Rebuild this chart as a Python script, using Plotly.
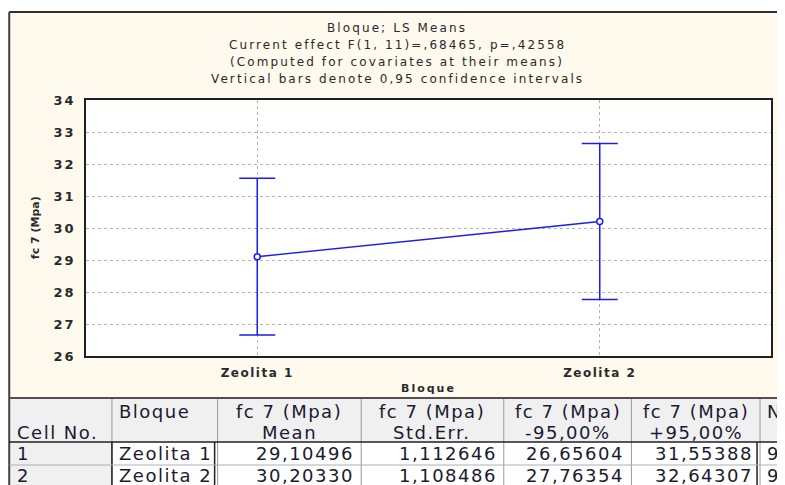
import plotly.graph_objects as go

# LS means of fc 7 (Mpa) by Bloque
bloque = ["Zeolita 1", "Zeolita 2"]
cell_no = ["1", "2"]
mean = [29.10496, 30.20330]
std_err = [1.112646, 1.108486]
lo95 = [26.65604, 27.76354]
hi95 = [31.55388, 32.64307]
n_obs = [9, 9]

y_ticks = list(range(26, 35))

title_lines = [
    "Bloque; LS Means",
    "Current effect F(1, 11)=,68465, p=,42558",
    "(Computed for covariates at their means)",
    "Vertical bars denote 0,95 confidence intervals",
]
col_heads = [
    ("", "Cell No."),
    ("Bloque", ""),
    ("fc 7 (Mpa)", "Mean"),
    ("fc 7 (Mpa)", "Std.Err."),
    ("fc 7 (Mpa)", "-95,00%"),
    ("fc 7 (Mpa)", "+95,00%"),
    ("N", ""),
]

# the page puts the figure 8px in from the top-left corner
OFF = 8
W, H = 785 - OFF, 485 - OFF
L, R, T, B = 86 - OFF, 12, 100 - OFF, 129
BLUE = "#1c1cf0"
TXT = "#2a2a2a"


def px(x):
    # window pixel -> paper x
    return (x - OFF - L) / (W - L - R)


def py(y):
    # window pixel -> paper y
    return (H - B - (y - OFF)) / (H - T - B)


def sp(text, ls):
    # letter spacing, the original text is drawn wide
    return f'<span style="letter-spacing:{ls}px">{text}</span>'


def num(v, d):
    return f"{v:.{d}f}".replace(".", ",")


fig = go.Figure()

fig.add_trace(go.Scatter(
    x=bloque, y=mean,
    mode="lines+markers",
    line=dict(color=BLUE, width=1.5),
    marker=dict(symbol="circle", size=6, color="white", line=dict(color=BLUE, width=1.5)),
    error_y=dict(
        type="data", symmetric=False,
        array=[h - m for h, m in zip(hi95, mean)],
        arrayminus=[m - l for m, l in zip(mean, lo95)],
        color=BLUE, thickness=1.5, width=18,
    ),
    showlegend=False,
))

shapes = []
# cream frame and white plot area
shapes.append(dict(type="rect", xref="paper", yref="paper", layer="below",
                   x0=px(10), x1=px(800), y0=py(397), y1=py(13),
                   fillcolor="#fff9ee", line=dict(width=0)))
shapes.append(dict(type="rect", xref="paper", yref="paper", layer="below",
                   x0=0, x1=1, y0=0, y1=1, fillcolor="white", line=dict(width=0)))
shapes.append(dict(type="line", xref="paper", yref="paper",
                   x0=px(9), x1=px(800), y0=py(12), y1=py(12),
                   line=dict(color="#303030", width=2)))
shapes.append(dict(type="line", xref="paper", yref="paper",
                   x0=px(9), x1=px(9), y0=py(12), y1=py(490),
                   line=dict(color="#404040", width=2)))

# table grid
col_x = [10, 112, 218, 362, 505, 633, 762, 800]
shapes.append(dict(type="rect", xref="paper", yref="paper", layer="below",
                   x0=px(10), x1=px(800), y0=py(442), y1=py(398),
                   fillcolor="#f0f0f0", line=dict(width=0)))
shapes.append(dict(type="rect", xref="paper", yref="paper", layer="below",
                   x0=px(10), x1=px(112), y0=py(490), y1=py(442),
                   fillcolor="#f0f0f0", line=dict(width=0)))
for x in col_x[1:-1]:
    shapes.append(dict(type="line", xref="paper", yref="paper",
                       x0=px(x), x1=px(x), y0=py(398), y1=py(490),
                       line=dict(color="#9a9a9a", width=1)))
for x in [112, 215, 759]:
    shapes.append(dict(type="line", xref="paper", yref="paper",
                       x0=px(x), x1=px(x), y0=py(442), y1=py(490),
                       line=dict(color="#202020", width=1.5)))
shapes.append(dict(type="line", xref="paper", yref="paper",
                   x0=px(9), x1=px(800), y0=py(398), y1=py(398),
                   line=dict(color="#505050", width=2)))
shapes.append(dict(type="line", xref="paper", yref="paper",
                   x0=px(9), x1=px(800), y0=py(442), y1=py(442),
                   line=dict(color="#202020", width=1.5)))
shapes.append(dict(type="line", xref="paper", yref="paper",
                   x0=px(9), x1=px(800), y0=py(465), y1=py(465),
                   line=dict(color="#b0b0b0", width=1)))

ann = []
for i, line in enumerate(title_lines):
    ann.append(dict(text=sp(line, 2.1), xref="paper", yref="paper",
                    x=px(398), y=py(28 + 17 * i), xanchor="center", yanchor="middle",
                    showarrow=False, font=dict(family="DejaVu Sans", size=12, color=TXT)))
ann.append(dict(text="fc 7 (Mpa)", xref="paper", yref="paper", textangle=-90,
                x=px(35), y=0.5, xanchor="center", yanchor="middle", showarrow=False,
                font=dict(family="DejaVu Sans", size=11, color=TXT, weight="bold")))
ann.append(dict(text=sp("Bloque", 2), xref="paper", yref="paper",
                x=0.5, y=py(388), xanchor="center", yanchor="middle", showarrow=False,
                font=dict(family="DejaVu Sans", size=11, color=TXT, weight="bold")))

tfont = dict(family="DejaVu Sans", size=18, color="#1a1a30")
for c, (h1, h2) in enumerate(col_heads):
    x0, x1 = col_x[c], col_x[c + 1]
    if c < 2 or c == 6:
        xa, xp = "left", x0 + 5
    else:
        xa, xp = "center", (x0 + x1) / 2
    if h1:
        ann.append(dict(text=sp(h1, 1.5), xref="paper", yref="paper", x=px(xp), y=py(411),
                        xanchor=xa, yanchor="middle", showarrow=False, font=tfont))
    if h2:
        ann.append(dict(text=sp(h2, 1.5), xref="paper", yref="paper", x=px(xp), y=py(432),
                        xanchor=xa, yanchor="middle", showarrow=False, font=tfont))

for r in range(len(bloque)):
    yc = py(453 + 22 * r)
    cells = [cell_no[r], bloque[r], num(mean[r], 5), num(std_err[r], 6),
             num(lo95[r], 5), num(hi95[r], 5), str(n_obs[r])]
    for c, t in enumerate(cells):
        x0, x1 = col_x[c], col_x[c + 1]
        if c < 2 or c == 6:
            xa, xp = "left", x0 + 5
        else:
            xa, xp = "right", x1 - 5
        ann.append(dict(text=sp(t, 1.5), xref="paper", yref="paper", x=px(xp), y=yc,
                        xanchor=xa, yanchor="middle", showarrow=False, font=tfont))

fig.update_layout(
    width=W, height=H,
    margin=dict(l=L, r=R, t=T, b=B),
    paper_bgcolor="white",
    plot_bgcolor="white",
    shapes=shapes,
    annotations=ann,
    xaxis=dict(
        type="category", range=[-0.5, 1.5],
        tickvals=bloque, ticktext=[sp(b, 1.5) for b in bloque],
        tickfont=dict(family="DejaVu Sans", size=12, color=TXT, weight="bold"),
        showline=True, linecolor="#202020", linewidth=1.5, mirror=True,
        showgrid=True, gridcolor="#b4b4b4", griddash="dot", gridwidth=1,
        ticks="", ticklabelstandoff=5, zeroline=False,
    ),
    yaxis=dict(
        range=[26, 34], tickvals=y_ticks, ticktext=[sp(str(v), 2) for v in y_ticks],
        tickfont=dict(family="DejaVu Sans", size=13, color=TXT, weight="bold"),
        showline=True, linecolor="#202020", linewidth=1.5, mirror=True,
        showgrid=True, gridcolor="#b4b4b4", griddash="dot", gridwidth=1,
        ticks="", ticklabelstandoff=6, zeroline=False,
    ),
)

fig.write_html("out.html")
